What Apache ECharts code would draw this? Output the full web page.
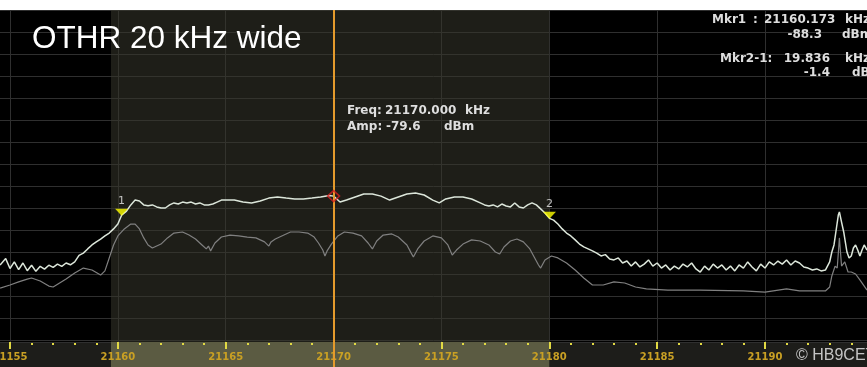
<!DOCTYPE html>
<html>
<head>
<meta charset="utf-8">
<script src="https://cdn.jsdelivr.net/npm/echarts@6/dist/echarts.min.js"></script>
<style>
  html, body { margin: 0; padding: 0; background: #ffffff; }
  #chart { width: 867px; height: 367px; }
</style>
</head>
<body>
<div id="chart"></div>
<script>
// Spectrum view, 21154.5 – 21194.7 kHz, 10 dB/div from +5 dBm reference
const spanStart = 21154.536;
const spanStop = 21194.73;
const refLevel = 5;
const bottomLevel = -145.91;
const divisions = 15.09;

const majorTicks = [21155, 21160, 21165, 21170, 21175, 21180, 21185, 21190];
const minorTicks = [21156, 21157, 21158, 21159, 21161, 21162, 21163, 21164, 21166, 21167, 21168, 21169,
  21171, 21172, 21173, 21174, 21176, 21177, 21178, 21179, 21181, 21182, 21183, 21184,
  21186, 21187, 21188, 21189, 21191, 21192, 21193, 21194];

// highlighted channel between the markers
const channelEdges = [21159.68, 21180.0];

// cursor readout
const cursorFreq = 21170.000;
const cursorAmp = -79.6;

// marker 1 and the delta of marker 2 against it
const mkr1Freq = 21160.173;
const mkr1Amp = -88.3;
const deltaKhz = 19.836;
const deltaDb = -1.4;

// max-hold trace [kHz, dBm]
const maxHoldTrace = [
  [21154.54, -110.9], [21154.8, -108.0], [21155.0, -112.5], [21155.2, -109.5], [21155.4, -113.0],
  [21155.6, -110.0], [21155.8, -113.5], [21156.0, -111.0], [21156.2, -113.8], [21156.4, -111.5],
  [21156.6, -112.8], [21156.8, -111.0], [21157.0, -112.0], [21157.2, -110.5], [21157.4, -111.5],
  [21157.6, -110.0], [21157.8, -110.8], [21158.0, -109.5], [21158.2, -106.5], [21158.4, -105.5],
  [21158.6, -103.6], [21158.8, -101.8], [21159.0, -100.4], [21159.2, -99.1], [21159.4, -97.7],
  [21159.6, -96.4], [21159.8, -94.5], [21160.0, -92.3], [21160.173, -88.3], [21160.4, -86.4],
  [21160.6, -83.6], [21160.8, -81.4], [21161.0, -81.8], [21161.2, -83.6], [21161.4, -84.0],
  [21161.6, -83.6], [21161.8, -84.5], [21162.0, -85.0], [21162.2, -85.0], [21162.4, -83.6],
  [21162.6, -82.7], [21162.8, -83.2], [21163.0, -82.3], [21163.2, -82.7], [21163.4, -82.3],
  [21163.6, -83.2], [21163.8, -82.7], [21164.0, -83.6], [21164.2, -83.6], [21164.4, -83.2],
  [21164.6, -82.3], [21164.8, -81.4], [21165.0, -81.4], [21165.4, -81.4], [21165.8, -82.3],
  [21166.2, -82.7], [21166.6, -81.8], [21167.0, -80.5], [21167.4, -80.0], [21167.8, -80.5],
  [21168.2, -80.9], [21168.6, -80.9], [21169.0, -80.5], [21169.4, -80.0], [21169.8, -79.3],
  [21170.0, -79.6], [21170.3, -82.3], [21170.6, -81.4], [21171.0, -80.0], [21171.4, -78.6],
  [21171.8, -78.6], [21172.2, -79.6], [21172.6, -81.4], [21173.0, -80.0], [21173.4, -78.6],
  [21173.8, -78.2], [21174.2, -79.1], [21174.6, -81.4], [21174.9, -82.7], [21175.2, -80.9],
  [21175.6, -80.0], [21176.0, -80.0], [21176.4, -80.9], [21176.8, -82.7], [21177.0, -83.6],
  [21177.2, -84.1], [21177.4, -83.6], [21177.6, -84.5], [21177.8, -83.2], [21178.0, -84.1],
  [21178.2, -84.5], [21178.4, -82.7], [21178.6, -84.5], [21178.8, -85.0], [21179.0, -83.6],
  [21179.2, -82.7], [21179.4, -83.6], [21179.6, -85.4], [21179.8, -87.3], [21180.009, -89.7],
  [21180.2, -90.5], [21180.4, -92.3], [21180.6, -94.5], [21180.8, -96.4], [21181.0, -97.7],
  [21181.2, -99.5], [21181.4, -101.4], [21181.6, -102.7], [21181.8, -103.6], [21182.0, -104.5],
  [21182.2, -105.5], [21182.4, -106.8], [21182.6, -106.2], [21182.8, -108.2], [21183.0, -108.6],
  [21183.2, -107.7], [21183.4, -110.0], [21183.6, -109.1], [21183.8, -111.4], [21184.0, -109.5],
  [21184.2, -111.8], [21184.4, -110.5], [21184.6, -108.6], [21184.8, -111.4], [21185.0, -110.0],
  [21185.2, -112.3], [21185.4, -110.9], [21185.6, -113.2], [21185.8, -111.4], [21186.0, -112.7],
  [21186.2, -110.5], [21186.4, -111.8], [21186.6, -110.0], [21186.8, -112.7], [21187.0, -114.1],
  [21187.2, -111.4], [21187.4, -113.2], [21187.6, -110.5], [21187.8, -112.3], [21188.0, -110.9],
  [21188.2, -113.2], [21188.4, -111.4], [21188.6, -113.6], [21188.8, -110.9], [21189.0, -112.3],
  [21189.2, -109.5], [21189.4, -111.8], [21189.6, -113.6], [21189.8, -110.5], [21190.0, -112.3],
  [21190.2, -109.5], [21190.4, -110.9], [21190.6, -109.1], [21190.8, -110.5], [21191.0, -108.6],
  [21191.2, -110.9], [21191.4, -109.1], [21191.6, -110.0], [21191.8, -111.8], [21192.0, -112.3],
  [21192.2, -113.2], [21192.4, -112.7], [21192.6, -113.6], [21192.8, -113.2], [21193.0, -109.5],
  [21193.1, -105.0], [21193.2, -101.8], [21193.3, -95.0], [21193.4, -88.2], [21193.45, -86.8],
  [21193.55, -91.4], [21193.65, -95.9], [21193.8, -105.0], [21193.9, -107.7], [21194.0, -106.8],
  [21194.1, -103.2], [21194.2, -101.8], [21194.3, -104.1], [21194.4, -106.8], [21194.5, -104.1],
  [21194.6, -101.8], [21194.73, -104.1]
];

// live (clear/write) trace [kHz, dBm]
const liveTrace = [
  [21154.54, -121.4], [21155.0, -120.0], [21155.4, -118.6], [21155.8, -117.3], [21156.0, -116.8],
  [21156.4, -118.2], [21156.8, -120.5], [21157.0, -120.9], [21157.3, -119.1], [21157.6, -117.3],
  [21158.0, -114.5], [21158.4, -112.3], [21158.8, -113.2], [21159.2, -115.5], [21159.4, -113.6],
  [21159.6, -107.7], [21159.8, -101.8], [21160.0, -97.7], [21160.3, -94.5], [21160.6, -92.3],
  [21160.8, -92.3], [21161.0, -94.5], [21161.2, -98.6], [21161.4, -101.8], [21161.6, -103.2],
  [21161.8, -102.3], [21162.0, -101.4], [21162.3, -98.6], [21162.6, -96.4], [21163.0, -95.9],
  [21163.3, -97.3], [21163.6, -99.1], [21163.9, -101.8], [21164.1, -103.6], [21164.2, -102.3],
  [21164.3, -104.5], [21164.5, -100.9], [21164.8, -98.2], [21165.2, -97.3], [21165.6, -97.7],
  [21166.0, -98.2], [21166.4, -98.6], [21166.8, -100.4], [21167.0, -102.3], [21167.1, -100.4],
  [21167.3, -99.1], [21167.6, -97.7], [21168.0, -95.9], [21168.4, -95.9], [21168.8, -96.4],
  [21169.1, -98.2], [21169.3, -100.9], [21169.5, -104.1], [21169.6, -106.8], [21169.7, -104.5],
  [21169.9, -101.4], [21170.2, -97.7], [21170.5, -95.9], [21170.9, -96.4], [21171.3, -97.7],
  [21171.6, -100.9], [21171.8, -103.6], [21172.0, -100.0], [21172.3, -97.3], [21172.7, -96.8],
  [21173.0, -98.2], [21173.4, -101.8], [21173.6, -105.5], [21173.7, -107.3], [21173.9, -103.6],
  [21174.2, -100.0], [21174.6, -97.7], [21175.0, -98.6], [21175.3, -101.8], [21175.5, -106.4],
  [21175.7, -104.1], [21176.0, -101.4], [21176.4, -99.5], [21176.8, -100.0], [21177.2, -101.8],
  [21177.5, -105.0], [21177.7, -105.9], [21177.9, -102.7], [21178.2, -100.0], [21178.5, -99.1],
  [21178.8, -100.4], [21179.1, -103.6], [21179.3, -107.3], [21179.5, -110.9], [21179.6, -112.3],
  [21179.8, -108.6], [21180.1, -106.8], [21180.4, -107.7], [21180.8, -110.0], [21181.2, -113.2],
  [21181.6, -116.8], [21182.0, -120.0], [21182.5, -120.0], [21183.0, -118.6], [21183.5, -119.1],
  [21184.0, -120.9], [21184.5, -121.8], [21185.5, -122.3], [21187.0, -122.3], [21189.0, -122.7],
  [21190.0, -123.2], [21191.0, -121.8], [21191.6, -122.7], [21192.8, -122.7], [21193.0, -120.9],
  [21193.1, -115.9], [21193.25, -111.4], [21193.35, -112.3], [21193.45, -98.6], [21193.55, -111.4],
  [21193.7, -109.5], [21193.85, -114.1], [21194.0, -114.1], [21194.2, -115.0], [21194.4, -117.7],
  [21194.73, -122.3]
];

const mkr2Freq = mkr1Freq + deltaKhz;
const mkr2Amp = mkr1Amp + deltaDb;

const readoutFont = 'bold 12px "DejaVu Sans", Verdana, sans-serif';
const readoutColor = '#dedede';
const tickYellow = '#e2da44';

const chart = echarts.init(document.getElementById('chart'), null, { renderer: 'canvas' });

const hiddenAxisParts = {
  axisLine: { show: false }, axisLabel: { show: false }, axisTick: { show: false }
};

function readout(text, x, y, align) {
  return { type: 'text', x: x, y: y, z: 10,
    style: { text: text, fill: readoutColor, font: readoutFont, align: align || 'left', verticalAlign: 'middle' } };
}

// frequency ruler: one axis per tick row so labels and ticks stay independent
function rulerTicks(values, length, offset) {
  return {
    gridIndex: 1, type: 'value', min: spanStart, max: spanStop, position: 'top', offset: offset, z: 3,
    axisLine: { show: false }, axisLabel: { show: false },
    axisTick: { show: true, inside: true, length: length, customValues: values,
      lineStyle: { color: tickYellow, width: 2 } },
    splitLine: { show: false }
  };
}

chart.setOption({
  backgroundColor: '#ffffff',
  animation: false,
  grid: [
    { left: 0, right: 0, top: 10, height: 332, show: true, backgroundColor: '#000000', borderWidth: 0,
      outerBoundsMode: 'none', containLabel: false },
    { left: 0, right: 0, top: 342, height: 25, show: true, backgroundColor: '#1d1d1a', borderWidth: 0,
      outerBoundsMode: 'none', containLabel: false }
  ],
  xAxis: [
    {
      gridIndex: 0, type: 'value', min: spanStart, max: spanStop,
      axisLine: { show: false }, axisLabel: { show: false },
      axisTick: { show: false, customValues: majorTicks },
      splitLine: { show: true, lineStyle: { color: '#2f2f2f', width: 1 } }
    },
    {
      gridIndex: 1, type: 'value', min: spanStart, max: spanStop, position: 'top', z: 3,
      axisLine: { show: false },
      axisTick: { show: false, customValues: majorTicks },
      axisLabel: { show: true, inside: true, margin: 10, customValues: majorTicks,
        formatter: v => String(v), color: '#c9a024',
        fontFamily: '"DejaVu Sans", Verdana, sans-serif', fontWeight: 'bold', fontSize: 10 },
      splitLine: { show: false }
    },
    rulerTicks(minorTicks, 2, -1),
    rulerTicks(majorTicks, 7, 0)
  ],
  yAxis: [
    { gridIndex: 0, type: 'value', min: bottomLevel, max: refLevel, show: false },
    {
      gridIndex: 0, type: 'value', min: 0, max: divisions, interval: 1, inverse: true,
      ...hiddenAxisParts,
      splitLine: { show: true, lineStyle: { color: '#2f2f2f', width: 1 } }
    },
    { gridIndex: 1, type: 'value', min: 0, max: 1, show: false }
  ],
  series: [
    {
      name: 'channel', type: 'line', xAxisIndex: 0, yAxisIndex: 0, data: [], z: 1,
      markArea: {
        silent: true,
        itemStyle: { color: 'rgba(54,54,44,0.55)' },
        data: [[{ xAxis: channelEdges[0] }, { xAxis: channelEdges[1] }]]
      }
    },
    {
      name: 'live', type: 'line', xAxisIndex: 0, yAxisIndex: 0, data: liveTrace, z: 2,
      showSymbol: false, silent: true,
      lineStyle: { color: '#808080', width: 1.2 }
    },
    {
      name: 'max hold', type: 'line', xAxisIndex: 0, yAxisIndex: 0, data: maxHoldTrace, z: 3,
      showSymbol: false, silent: true,
      lineStyle: { color: '#dce6da', width: 1.5 },
      markLine: {
        silent: true, symbol: 'none', label: { show: false },
        lineStyle: { color: '#e49a2c', width: 2, type: 'solid' },
        data: [{ xAxis: cursorFreq }]
      }
    },
    {
      name: 'markers', type: 'scatter', xAxisIndex: 0, yAxisIndex: 0, z: 5,
      symbol: 'triangle', symbolRotate: 180, symbolSize: [13, 7], symbolOffset: [0, -3],
      itemStyle: { color: '#ffff00' },
      label: { show: true, position: 'top', distance: 2, formatter: p => p.name,
        color: '#e8e8e8', fontFamily: '"DejaVu Sans", sans-serif', fontSize: 11 },
      data: [
        { name: '1', value: [mkr1Freq, mkr1Amp] },
        { name: '2', value: [mkr2Freq, mkr2Amp] }
      ]
    },
    {
      name: 'cursor', type: 'scatter', xAxisIndex: 0, yAxisIndex: 0, z: 6,
      symbol: 'diamond', symbolSize: [12, 11],
      itemStyle: { color: 'rgba(0,0,0,0)', borderColor: '#d42020', borderWidth: 1.5 },
      data: [[cursorFreq, cursorAmp]]
    },
    {
      name: 'band', type: 'line', xAxisIndex: 1, yAxisIndex: 2, data: [], z: 1,
      markArea: {
        silent: true,
        itemStyle: { color: '#5b5b42' },
        data: [[{ xAxis: channelEdges[0] }, { xAxis: channelEdges[1] }]]
      },
      markLine: {
        silent: true, symbol: 'none', label: { show: false },
        lineStyle: { color: '#e49a2c', width: 2, type: 'solid' },
        data: [{ xAxis: cursorFreq }]
      }
    }
  ],
  graphic: [
    { type: 'text', x: 32, y: 39, z: 10,
      style: { text: 'OTHR 20 kHz wide', fill: '#ffffff', font: '31.5px "Liberation Sans", Arial, sans-serif',
        align: 'left', verticalAlign: 'middle' } },

    readout('Freq:', 347, 111),
    readout(cursorFreq.toFixed(3), 385, 111),
    readout('kHz', 465, 111),
    readout('Amp:', 347, 127),
    readout(cursorAmp.toFixed(1), 386, 127),
    readout('dBm', 444, 127),

    readout('Mkr1', 712, 20),
    readout(':', 753, 20),
    readout(mkr1Freq.toFixed(3), 764, 20),
    readout('kHz', 845, 20),
    readout(mkr1Amp.toFixed(1), 822, 35, 'right'),
    readout('dBm', 842, 35),
    readout('Mkr2-1:', 720, 59),
    readout(deltaKhz.toFixed(3), 830, 59, 'right'),
    readout('kHz', 845, 59),
    readout(deltaDb.toFixed(1), 830, 73, 'right'),
    readout('dB', 852, 73),

    { type: 'text', x: 796, y: 356, z: 10,
      style: { text: '\u00A9 HB9CET', fill: '#c4c4c4', font: '16px "Liberation Sans", Arial, sans-serif',
        verticalAlign: 'middle' } }
  ]
});
</script>
</body>
</html>
